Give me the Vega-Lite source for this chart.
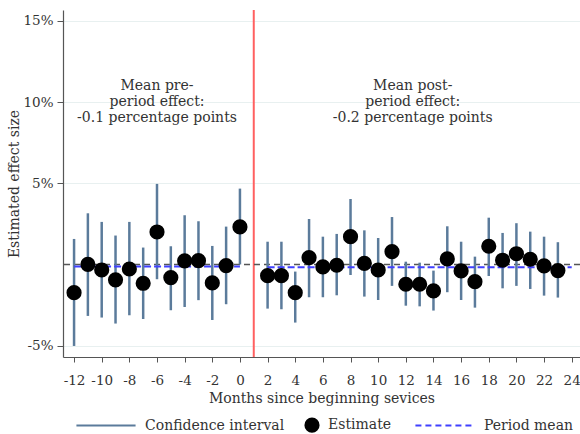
{
  "$schema": "https://vega.github.io/schema/vega-lite/v6.json",
  "width": 517,
  "height": 347,
  "autosize": "none",
  "padding": {"left": 63, "top": 10, "right": 0, "bottom": 77},
  "background": "white",
  "config": {
    "font": "DejaVu Serif",
    "view": {"stroke": null},
    "axis": {"labelFont": "DejaVu Serif", "titleFont": "DejaVu Serif", "labelFontSize": 13.5, "titleFontSize": 14, "titleFontWeight": "normal", "labelColor": "#333", "titleColor": "#333", "domainColor": "#555", "tickColor": "#555", "domainWidth": 1.2}
  },
  "datasets": {
    "points": [
      {"month": -12, "est": -1.74, "lo": -5.02, "hi": 1.57},
      {"month": -11, "est": 0.0, "lo": -3.17, "hi": 3.15},
      {"month": -10, "est": -0.34, "lo": -3.27, "hi": 2.62},
      {"month": -9, "est": -0.95, "lo": -3.64, "hi": 1.78},
      {"month": -8, "est": -0.28, "lo": -3.13, "hi": 2.62},
      {"month": -7, "est": -1.16, "lo": -3.36, "hi": 1.04},
      {"month": -6, "est": 2.0, "lo": -0.91, "hi": 4.96},
      {"month": -5, "est": -0.81, "lo": -2.82, "hi": 1.12},
      {"month": -4, "est": 0.22, "lo": -2.62, "hi": 3.03},
      {"month": -3, "est": 0.23, "lo": -2.2, "hi": 2.66},
      {"month": -2, "est": -1.14, "lo": -3.42, "hi": 1.14},
      {"month": -1, "est": -0.07, "lo": -2.45, "hi": 2.33},
      {"month": 0, "est": 2.31, "lo": 0.0, "hi": 4.67},
      {"month": 2, "est": -0.69, "lo": -2.72, "hi": 1.4},
      {"month": 3, "est": -0.69, "lo": -2.76, "hi": 1.4},
      {"month": 4, "est": -1.74, "lo": -3.58, "hi": -0.44},
      {"month": 5, "est": 0.42, "lo": -2.02, "hi": 2.8},
      {"month": 6, "est": -0.15, "lo": -2.02, "hi": 1.71},
      {"month": 7, "est": -0.05, "lo": -1.9, "hi": 1.88},
      {"month": 8, "est": 1.71, "lo": -0.65, "hi": 4.03},
      {"month": 9, "est": 0.07, "lo": -1.98, "hi": 2.1},
      {"month": 10, "est": -0.34, "lo": -2.19, "hi": 1.63},
      {"month": 11, "est": 0.79, "lo": -1.32, "hi": 2.92},
      {"month": 12, "est": -1.22, "lo": -2.54, "hi": 0.17},
      {"month": 13, "est": -1.22, "lo": -2.58, "hi": 0.11},
      {"month": 14, "est": -1.63, "lo": -2.84, "hi": -0.38},
      {"month": 15, "est": 0.34, "lo": -1.71, "hi": 2.35},
      {"month": 16, "est": -0.4, "lo": -2.19, "hi": 1.4},
      {"month": 17, "est": -1.06, "lo": -2.66, "hi": 0.48},
      {"month": 18, "est": 1.12, "lo": -0.71, "hi": 2.88},
      {"month": 19, "est": 0.26, "lo": -1.47, "hi": 1.94},
      {"month": 20, "est": 0.66, "lo": -1.32, "hi": 2.54},
      {"month": 21, "est": 0.32, "lo": -1.51, "hi": 2.02},
      {"month": 22, "est": -0.09, "lo": -1.92, "hi": 1.71},
      {"month": 23, "est": -0.38, "lo": -2.04, "hi": 1.37}
    ],
    "means": [
      {"start": -12, "end": 0, "mean": -0.13},
      {"start": 2, "end": 24, "mean": -0.17}
    ],
    "refs": [
      {"split": 1, "zero": 0}
    ],
    "notes": [
      {"month": -6, "y": 11, "text": "Mean pre-"},
      {"month": -6, "y": 10, "text": "period effect:"},
      {"month": -6, "y": 9, "text": "-0.1 percentage points"},
      {"month": 12.5, "y": 11, "text": "Mean post-"},
      {"month": 12.5, "y": 10, "text": "period effect:"},
      {"month": 12.5, "y": 9, "text": "-0.2 percentage points"}
    ]
  },
  "encoding": {
    "x": {
      "type": "quantitative",
      "scale": {"domain": [-12.8, 24.6], "nice": false, "zero": false},
      "axis": {"values": [-12,-10,-8,-6,-4,-2,0,2,4,6,8,10,12,14,16,18,20,22,24], "labelExpr": "datum.value + ''", "grid": false, "tickSize": 5, "labelPadding": 11, "title": "Months since beginning sevices", "titlePadding": 5, "labelFlush": false}
    },
    "y": {
      "type": "quantitative",
      "scale": {"domain": [-5.7, 15.67], "nice": false, "zero": false},
      "axis": {"values": [-5, 5, 10, 15], "labelExpr": "datum.value + '%'", "grid": true, "gridColor": "#e8f0f0", "gridWidth": 1.2, "tickSize": 6, "labelPadding": 4, "title": "Estimated effect size", "titlePadding": 1, "labelFlush": false}
    }
  },
  "layer": [
    {
      "data": {"name": "refs"},
      "mark": {"type": "rule", "color": "#ff6060", "strokeWidth": 2},
      "encoding": {"x": {"field": "split"}, "y": null}
    },
    {
      "data": {"name": "refs"},
      "mark": {"type": "rule", "color": "#555555", "strokeWidth": 1.5, "strokeDash": [6, 4]},
      "encoding": {"y": {"field": "zero"}, "x": null}
    },
    {
      "data": {"name": "points"},
      "mark": {"type": "rule", "strokeWidth": 2.5},
      "encoding": {
        "x": {"field": "month"},
        "y": {"field": "lo"},
        "y2": {"field": "hi"},
        "color": {
          "datum": "Confidence interval",
          "type": "nominal",
          "scale": {"domain": ["Confidence interval", "Estimate", "Period mean"], "range": ["#5b7b9b", "#000000", "#4040ff"]},
          "legend": {
            "orient": "none",
            "legendX": 13,
            "legendY": 408,
            "direction": "horizontal",
            "title": null,
            "symbolType": "stroke",
            "symbolSize": 3500,
            "symbolStrokeWidth": 2,
            "labelFont": "DejaVu Serif",
            "labelFontSize": 14,
            "labelColor": "#333",
            "columnPadding": 19,
            "labelOffset": 10,
            "encode": {
              "symbols": {
                "update": {
                  "shape": {"signal": "datum.value === 'Estimate' ? 'circle' : 'stroke'"},
                  "size": {"signal": "datum.value === 'Estimate' ? 230 : 3500"},
                  "x": {"signal": "datum.value === 'Estimate' ? 8 : 30"},
                  "fill": {"signal": "datum.value === 'Estimate' ? '#000000' : 'transparent'"},
                  "stroke": {"scale": "color", "field": "value"},
                  "strokeWidth": {"signal": "datum.value === 'Estimate' ? 0 : 2"},
                  "strokeDash": {"signal": "datum.value === 'Period mean' ? [6, 4] : [1, 0]"},
                  "opacity": {"value": 1}
                }
              },
              "labels": {
                "update": {
                  "x": {"signal": "datum.value === 'Estimate' ? 24 : 69"}
                }
              }
            }
          }
        }
      }
    },
    {
      "data": {"name": "means"},
      "mark": {"type": "rule", "strokeWidth": 2, "strokeDash": [7, 3]},
      "encoding": {
        "x": {"field": "start"},
        "x2": {"field": "end"},
        "y": {"field": "mean"},
        "color": {"datum": "Period mean", "type": "nominal"}
      }
    },
    {
      "data": {"name": "points"},
      "mark": {"type": "point", "filled": true, "opacity": 1, "size": 230},
      "encoding": {
        "x": {"field": "month"},
        "y": {"field": "est"},
        "color": {"datum": "Estimate", "type": "nominal"}
      }
    },
    {
      "data": {"name": "notes"},
      "mark": {"type": "text", "fontSize": 14, "color": "#333", "align": "center", "baseline": "middle"},
      "encoding": {
        "x": {"field": "month"},
        "y": {"field": "y"},
        "text": {"field": "text"}
      }
    }
  ]
}
